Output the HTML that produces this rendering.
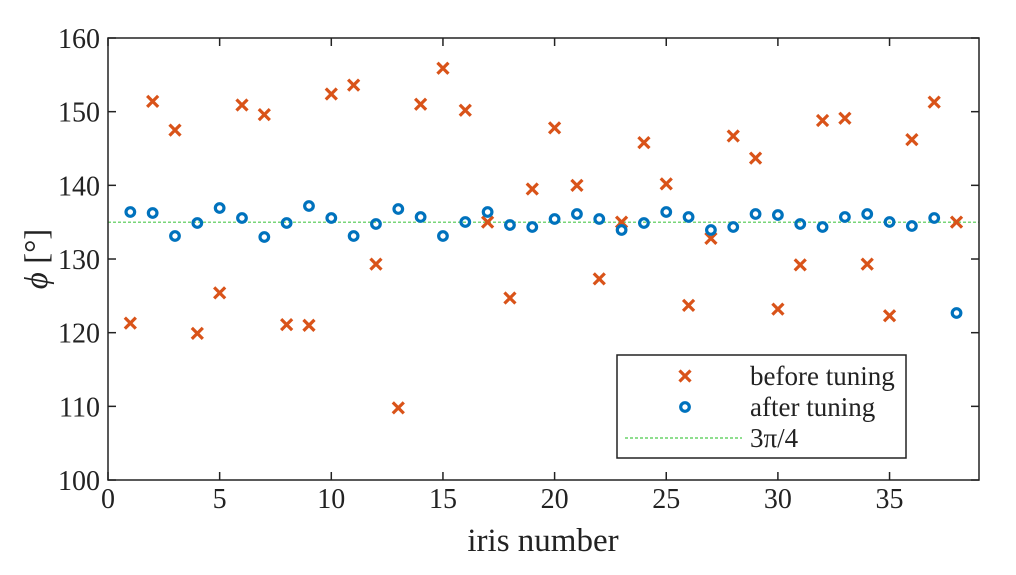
<!DOCTYPE html>
<html><head><meta charset="utf-8"><style>body{margin:0;background:#fff}svg{display:block}</style></head><body>
<svg width="1016" height="575" xmlns="http://www.w3.org/2000/svg" font-family="Liberation Serif, serif">
<g id="plot"></g>
</svg>
<script>
const NS="http://www.w3.org/2000/svg",g=document.getElementById('plot');
function el(t,a,txt){const e=document.createElementNS(NS,t);for(const k in a)e.setAttribute(k,a[k]);if(txt!==undefined)e.textContent=txt;g.appendChild(e);return e;}
const X0=108,SX=22.33,Y=v=>38+(160-v)*7.367,X=i=>X0+i*SX;
el('line',{x1:108,x2:979,y1:Y(135),y2:Y(135),stroke:'#4cc94c','stroke-width':1.2,'stroke-dasharray':'3,2'});
const before=[121.3,151.4,147.5,119.9,125.4,150.9,149.6,121.1,121,152.4,153.6,129.3,109.8,151,155.9,150.2,135,124.7,139.5,147.8,140,127.3,135,145.8,140.2,123.7,132.8,146.7,143.7,123.2,129.2,148.8,149.1,129.3,122.3,146.2,151.3,135];
const after=[212,213,236,223,208,218,237,223,206,218,236,224,209,217,236,222,212,225,227,219,214,219,230,223,212,217,230,227,214,215,224,227,217,214,222,226,218,313];
function cross(x,y){el('path',{d:`M${x-5.5},${y-5.5}L${x+5.5},${y+5.5}M${x-5.5},${y+5.5}L${x+5.5},${y-5.5}`,stroke:'#d95319','stroke-width':3.2});}
function circ(x,y){el('circle',{cx:x,cy:y,r:4.3,fill:'none',stroke:'#0072bd','stroke-width':3.2});}
before.forEach((v,i)=>cross(X(i+1),Y(v)));
after.forEach((y,i)=>circ(X(i+1),y));
el('rect',{x:108,y:38,width:871,height:442,fill:'none',stroke:'#222','stroke-width':1.5});
for(let v=0;v<=35;v+=5){const x=X(v);el('line',{x1:x,x2:x,y1:480,y2:472,stroke:'#222','stroke-width':1.5});el('line',{x1:x,x2:x,y1:38,y2:46,stroke:'#222','stroke-width':1.5});el('text',{x:x,y:508,'font-size':28,'text-anchor':'middle',fill:'#222'},v);}
for(let v=100;v<=160;v+=10){const y=Y(v);el('line',{x1:108,x2:116,y1:y,y2:y,stroke:'#222','stroke-width':1.5});el('line',{x1:979,x2:971,y1:y,y2:y,stroke:'#222','stroke-width':1.5});el('text',{x:100,y:y+10,'font-size':28,'text-anchor':'end',fill:'#222'},v);}
el('text',{x:543,y:551,'font-size':33,'text-anchor':'middle',fill:'#222'},'iris number');
const t=el('text',{x:0,y:0,'font-size':33,'text-anchor':'middle',fill:'#222',transform:'translate(47,259) rotate(-90)'});
t.innerHTML='<tspan font-style="italic">ϕ</tspan> [°]';
el('rect',{x:617,y:355,width:289,height:103,fill:'#fff',stroke:'#222','stroke-width':1.5});
cross(685,376);circ(685,407);
el('line',{x1:625,x2:742,y1:438,y2:438,stroke:'#4cc94c','stroke-width':1.2,'stroke-dasharray':'3,2'});
el('text',{x:750,y:385,'font-size':27,fill:'#222'},'before tuning');
el('text',{x:750,y:416,'font-size':27,fill:'#222'},'after tuning');
el('text',{x:750,y:447,'font-size':27,fill:'#222'},'3π/4');
</script>
</body></html>
